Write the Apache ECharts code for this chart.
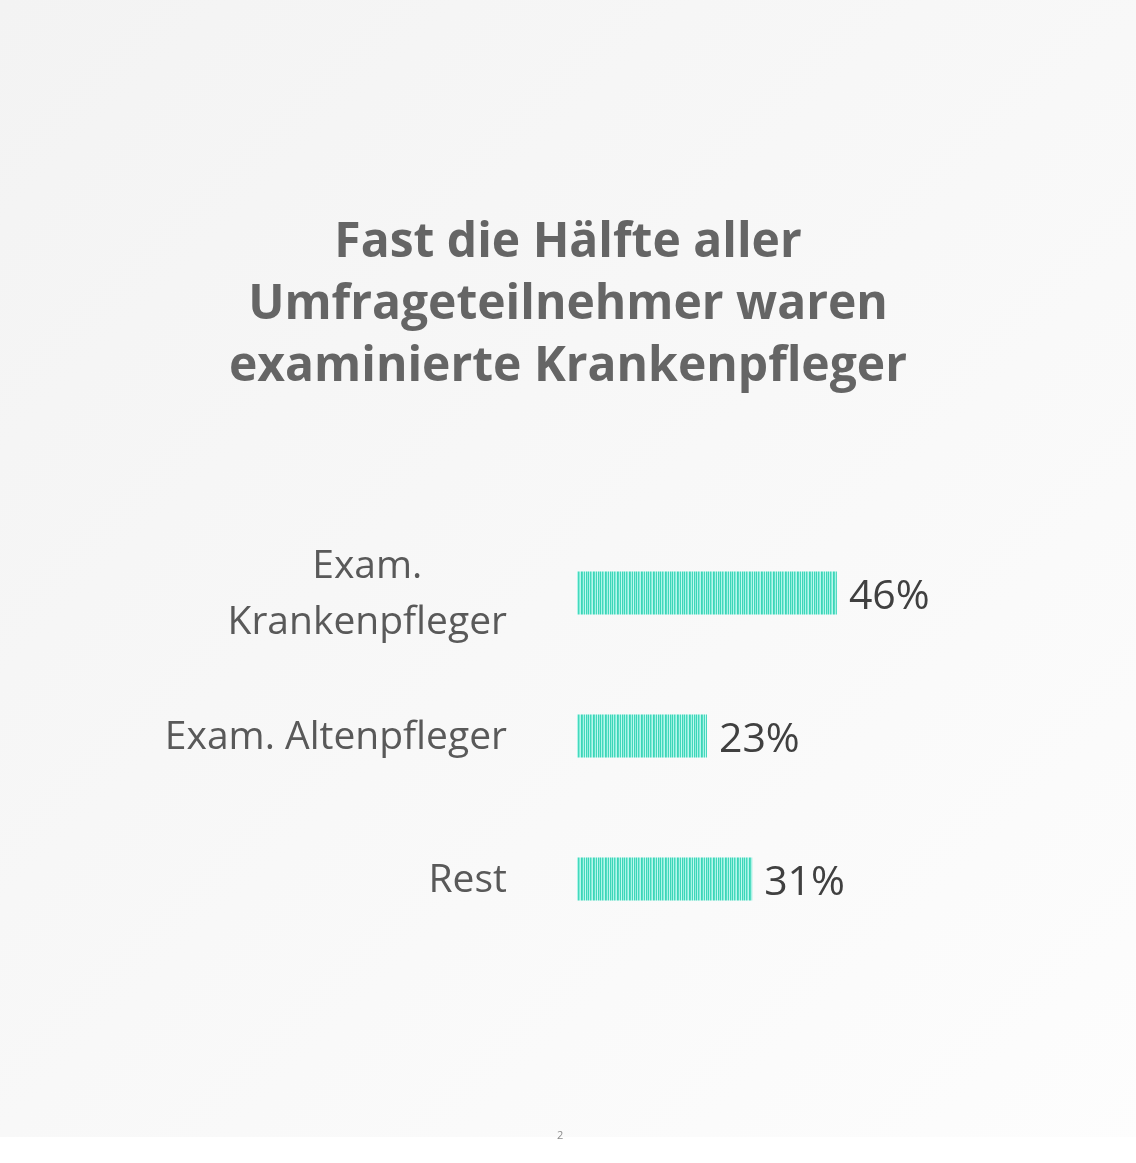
<!DOCTYPE html>
<html>
<head>
<meta charset="utf-8">
<script src="https://cdn.jsdelivr.net/npm/echarts@6/dist/echarts.min.js"></script>
<style>
  html, body { margin: 0; padding: 0; background: #ffffff; }
  #chart { width: 1136px; height: 1163px; }
</style>
</head>
<body>
<div id="chart"></div>
<script>
const titleLines = ['Fast die Hälfte aller', 'Umfrageteilnehmer waren', 'examinierte Krankenpfleger'];
const categories = ['Exam. Krankenpfleger', 'Exam. Altenpfleger', 'Rest'];
const categoryLabels = ['Exam.\nKrankenpfleger', 'Exam. Altenpfleger', 'Rest'];
const values = [46, 23, 31];
const pageNumber = '2';

// striped pattern for the bars
const pat = document.createElement('canvas');
const stripes = ['#3ad6b8', '#aef5e9', '#44d9bd', '#86ead7', '#b8f7ed', '#3cd5b7', '#55dcc2', '#a8f3e6', '#42d8bb', '#c2f9f0', '#3ed6b9', '#94eddc'];
pat.width = stripes.length; pat.height = 4;
const pctx = pat.getContext('2d');
stripes.forEach((c, i) => { pctx.fillStyle = c; pctx.fillRect(i, 0, 1, 4); });

const chart = echarts.init(document.getElementById('chart'), null, { renderer: 'canvas' });
const option = {
  backgroundColor: {
    type: 'linear', x: 0, y: 0, x2: 1, y2: 1,
    colorStops: [{ offset: 0, color: '#f3f3f3' }, { offset: 1, color: '#fdfdfd' }]
  },
  title: {
    text: titleLines.join('\n'),
    left: 'center',
    top: 207,
    textStyle: {
      fontFamily: 'Open Sans',
      fontWeight: 'bold',
      fontSize: 48,
      lineHeight: 62,
      color: '#656565'
    }
  },
  grid: { left: 577, width: 452, top: 521.5, height: 429 },
  xAxis: {
    type: 'value', min: 0, max: 80,
    show: false
  },
  yAxis: {
    type: 'category',
    data: categories,
    inverse: true,
    axisLine: { show: false },
    axisTick: { show: false },
    axisLabel: {
      margin: 70,
      color: '#595959',
      fontFamily: 'Open Sans',
      fontSize: 39,
      lineHeight: 56,
      padding: [4, 0, 0, 0],
      formatter: function (v, i) {
        const t = categoryLabels[i];
        return t.split('\n').map(s => '{c|' + s + '}').join('\n');
      },
      rich: { c: { align: 'center', color: '#595959', fontFamily: 'Open Sans', fontSize: 39, lineHeight: 56 } }
    }
  },
  series: [{
    type: 'bar',
    data: values,
    barWidth: 43,
    itemStyle: { color: { image: pat, repeat: 'repeat' } },
    label: {
      show: true,
      position: 'right',
      distance: 12,
      offset: [0, 4],
      formatter: '{c}%',
      color: '#404040',
      fontFamily: 'Open Sans',
      fontSize: 41
    }
  }],
  graphic: [
    { type: 'rect', left: 0, top: 1137, shape: { width: 1136, height: 26 }, style: { fill: '#ffffff' }, silent: true },
    { type: 'text', left: 557, top: 1130, style: { text: pageNumber, fill: '#8c8c8c', font: '11px "Open Sans"' } }
  ]
};
chart.setOption(option);
</script>
</body>
</html>
